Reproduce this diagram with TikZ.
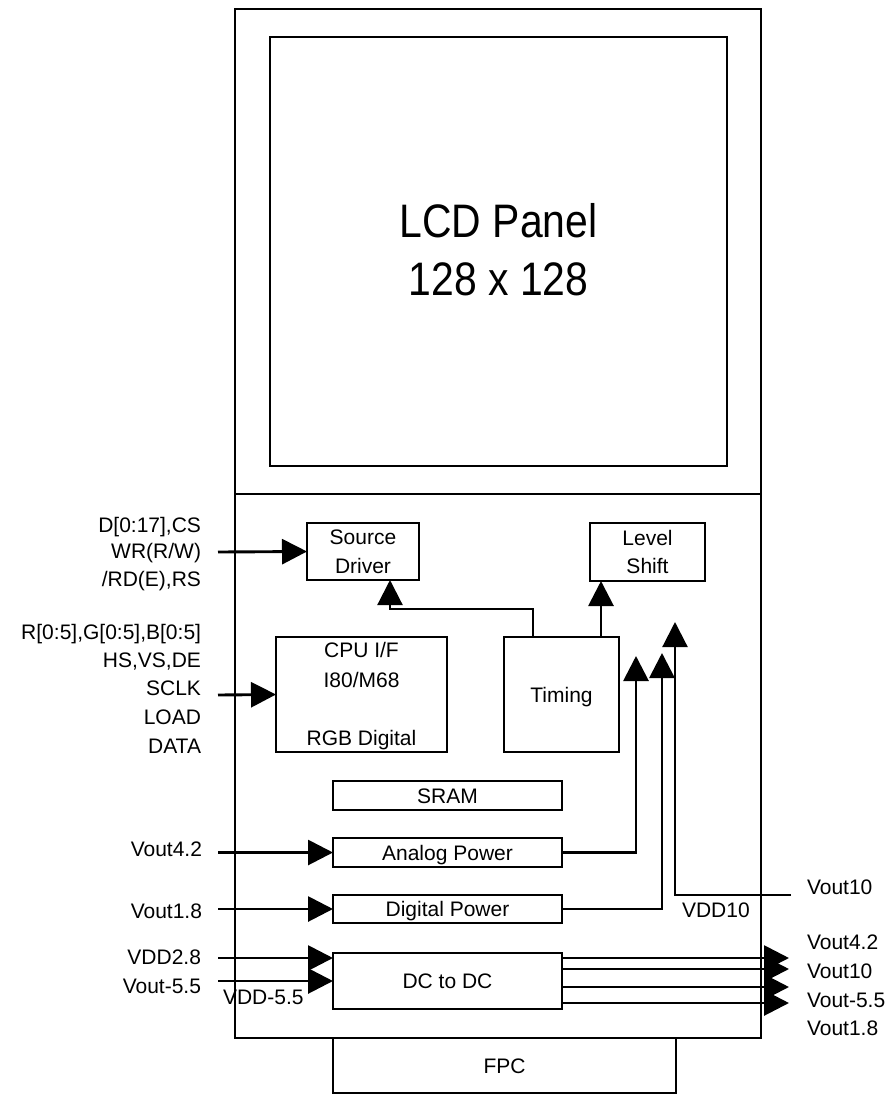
\documentclass[tikz,border=0pt]{standalone}
\usepackage{fontspec}
\setmainfont{Liberation Sans}
\newfontfamily\lcdfont[FakeStretch=0.87]{Liberation Sans}
\usetikzlibrary{arrows.meta}
\begin{document}
\begin{tikzpicture}[x=1pt,y=-1pt,
  line width=2.9pt,
  every node/.style={inner sep=0pt, outer sep=0pt},
  lbl/.style={font=\fontsize{21}{25}\selectfont},
  blk/.style={draw, line width=2.9pt, rectangle, font=\fontsize{21}{25}\selectfont, align=center},
  one/.style={text height=15pt, text depth=0pt},
  arr/.style={-{Triangle[length=25pt,width=25pt]}},
  thin/.style={line width=2.2pt}
]
\useasboundingbox (0,0) rectangle (890,1095);

% frames
\node[blk, minimum width=526pt, minimum height=1029pt] (frame) at (498,523.5) {};
\coordinate (divl) at (235,494);
\draw (divl) -- (divl -| frame.east);
\node[blk, minimum width=457pt, minimum height=429pt] (lcd) at (498.5,251.5) {};
\node[font=\lcdfont\fontsize{47}{58}\selectfont, align=center] (lcdtxt) at (498.5,249.5) {LCD Panel\\128 x 128};

% blocks
\node[blk, minimum width=112pt, minimum height=57pt, font=\fontsize{21}{29}\selectfont] (sd) at (363,551.5) {Source\\Driver};
\node[blk, minimum width=115pt, minimum height=58pt, font=\fontsize{21}{28}\selectfont] (ls) at (647.5,552) {Level\\Shift};
\node[blk, minimum width=171pt, minimum height=115pt] (cpu) at (361.5,694.5) {};
\node[lbl, anchor=base] (cpu1) at (361.5,657.5) {CPU I/F};
\node[lbl, anchor=base] (cpu2) at (361.5,687.5) {I80/M68};
\node[lbl, anchor=base] (cpu3) at (361.5,745.5) {RGB Digital};
\node[blk, one, minimum width=115pt, minimum height=115pt] (tm) at (561.5,694.5) {Timing};
\node[blk, one, minimum width=229pt, minimum height=29pt] (sram) at (447.5,795.5) {SRAM};
\node[blk, one, minimum width=229pt, minimum height=29pt] (ap) at (447.5,852.5) {Analog Power};
\node[blk, one, minimum width=229pt, minimum height=28pt] (dp) at (447.5,909) {Digital Power};
\node[blk, one, minimum width=229pt, minimum height=56pt] (dc) at (447.5,981) {DC to DC};
\node[blk, one, minimum width=343pt, minimum height=55pt] (fpc) at (504.5,1065.5) {FPC};

% left labels
\node[lbl, anchor=base east] (l1) at (201,532.5) {D[0:17],CS};
\node[lbl, anchor=base east] (l2) at (201,558.5) {WR(R/W)};
\node[lbl, anchor=base east] (l3) at (201,586.5) {/RD(E),RS};
\node[lbl, anchor=base east] (l4) at (201,639.5) {R[0:5],G[0:5],B[0:5]};
\node[lbl, anchor=base east] (l5) at (201,667.5) {HS,VS,DE};
\node[lbl, anchor=base east] (l6) at (201,695.5) {SCLK};
\node[lbl, anchor=base east] (l7) at (201,724.5) {LOAD};
\node[lbl, anchor=base east] (l8) at (201,753.5) {DATA};
\node[lbl, anchor=base east] (l9) at (202,856.5) {Vout4.2};
\node[lbl, anchor=base east] (l10) at (202,918.5) {Vout1.8};
\node[lbl, anchor=base east] (l11) at (201,964) {VDD2.8};
\node[lbl, anchor=base east] (l12) at (201,993.5) {Vout-5.5};
\node[lbl, anchor=base west] (l13) at (223,1004) {VDD-5.5};

% right labels
\node[lbl, anchor=base west] (r0) at (682,917.5) {VDD10};
\node[lbl, anchor=base west] (r1) at (807,894.5) {Vout10};
\node[lbl, anchor=base west] (r2) at (807,949) {Vout4.2};
\node[lbl, anchor=base west] (r3) at (807,978) {Vout10};
\node[lbl, anchor=base west] (r4) at (807,1007.5) {Vout-5.5};
\node[lbl, anchor=base west] (r5) at (807,1035) {Vout1.8};

% free ends
\coordinate (in1) at (218,552);
\coordinate (in2) at (218,695);
\coordinate (in3) at (218,852.5);
\coordinate (in4) at (218,909);
\coordinate (in5) at (218,958);
\coordinate (in6) at (218,981);
\coordinate (t1) at (636,656);
\coordinate (t2) at (662,653);
\coordinate (t3) at (675,622);
\coordinate (v10) at (791,895);
\coordinate (o1) at (789,958);
\coordinate (o2) at (789,969);
\coordinate (o3) at (789,987);
\coordinate (o4) at (789,1003);

% connectors
\draw[arr] (in1) -- (sd.west);
\draw[arr] (in2) -- (cpu.west);
\draw[arr] (in3) -- (ap.west);
\draw[arr] (in4) -- (in4 -| dp.west);
\draw[arr] (in5) -- (in5 -| dc.west);
\draw[arr] (in6) -- (in6 -| dc.west);
\draw[arr, thin] ([xshift=29pt]tm.north west) -- ++(0,-28) -| ([xshift=83pt]sd.south west);
\draw[arr] ([xshift=97pt]tm.north west) -- ([xshift=97pt]tm.north west |- ls.south);
\draw[arr] (ap.east) -| (t1);
\draw[arr] (dp.east) -| (t2);
\draw[arr, thin] (v10) -| (t3);
\draw[arr] (o1 -| dc.east) -- (o1);
\draw[arr] (o2 -| dc.east) -- (o2);
\draw[arr] (o3 -| dc.east) -- (o3);
\draw[arr] (o4 -| dc.east) -- (o4);
\end{tikzpicture}
\end{document}
